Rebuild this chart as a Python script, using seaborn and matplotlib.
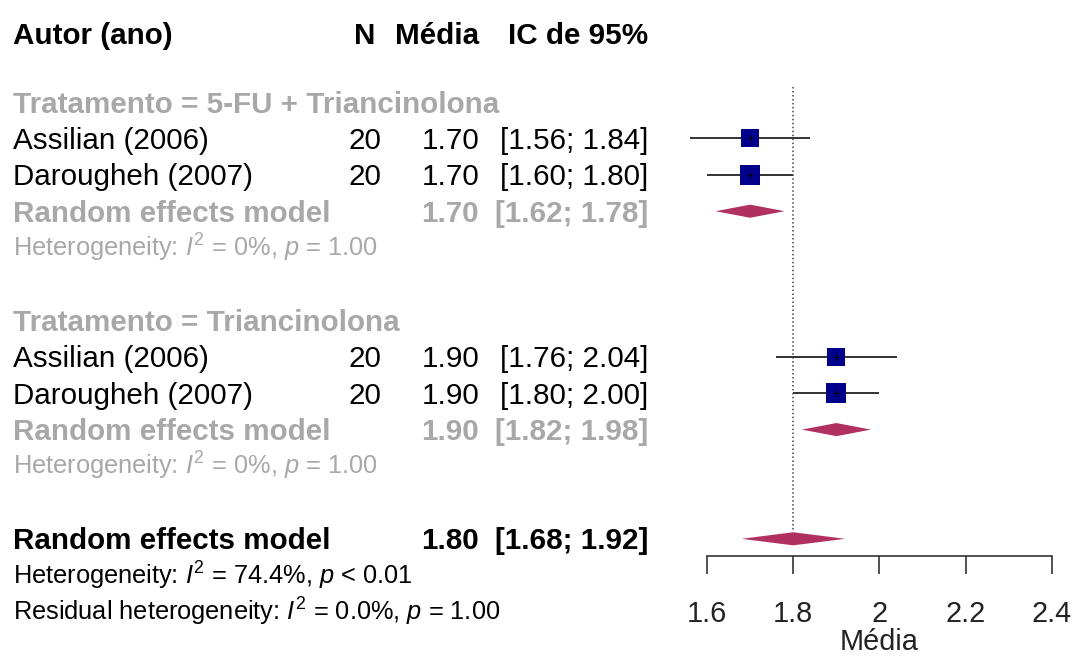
import numpy as np
import pandas as pd
import seaborn as sns
import matplotlib
matplotlib.use("Agg")
import matplotlib.pyplot as plt
from matplotlib.transforms import blended_transform_factory

# ---- data -------------------------------------------------------------
group_labels = ["Tratamento = 5-FU + Triancinolona", "Tratamento = Triancinolona"]

study_names = ["Assilian (2006)", "Darougheh (2007)",
               "Assilian (2006)", "Darougheh (2007)"]
study_group = [0, 0, 1, 1]
study_n = [20, 20, 20, 20]
study_mean = [1.70, 1.70, 1.90, 1.90]
study_lower = [1.56, 1.60, 1.76, 1.80]
study_upper = [1.84, 1.80, 2.04, 2.00]
study_weight = [45.0, 55.0, 45.0, 55.0]

sub_mean = [1.70, 1.90]
sub_lower = [1.62, 1.82]
sub_upper = [1.78, 1.98]
sub_i2 = ["0%", "0%"]
sub_p = ["= 1.00", "= 1.00"]

overall_mean = 1.80
overall_lower = 1.68
overall_upper = 1.92
overall_i2 = "74.4%"
overall_p = "< 0.01"
resid_i2 = "0.0%"
resid_p = "= 1.00"

ref_value = 1.8
x_ticks = [1.6, 1.8, 2.0, 2.2, 2.4]
x_tick_labels = ["1.6", "1.8", "2", "2.2", "2.4"]
x_label = "Média"
col_headers = ["Autor (ano)", "N", "Média", "IC de 95%"]

# ---- style --------------------------------------------------------------
sns.set_theme(style="white")
plt.rcParams["font.family"] = ["Liberation Sans", "DejaVu Sans"]
plt.rcParams["mathtext.fontset"] = "custom"
plt.rcParams["mathtext.rm"] = "Liberation Sans"
plt.rcParams["mathtext.it"] = "Liberation Sans:italic"
plt.rcParams["mathtext.bf"] = "Liberation Sans:bold"

W, H, DPI = 1074, 659, 100
GRAY = "#A8A8A8"
SQUARE = "#00008B"
DIAMOND = "#B03060"
FS = 21.3        # main text size (pt)
FS_HET = 18.3    # heterogeneity lines
FS_AXIS = 20.8   # axis tick labels / title

ROW0_PX = 102.0  # first row centre (px)
ROW_PX = 36.4    # row spacing (px)

fig = plt.figure(figsize=(W / DPI, H / DPI), dpi=DPI)

# forest panel: x in data units, y in row units, full figure height
x_lo, x_hi = 1.55, 2.45
px_per_unit = 431.25
left_px = 707 + (x_lo - 1.6) * px_per_unit
width_px = (x_hi - x_lo) * px_per_unit
ax = fig.add_axes([left_px / W, 0, width_px / W, 1])
ax.set_xlim(x_lo, x_hi)
ax.set_ylim((H - ROW0_PX) / ROW_PX, -ROW0_PX / ROW_PX)
ax.set_facecolor("none")

trans = blended_transform_factory(fig.transFigure, ax.transData)


def put(xpx, row, s, size=FS, bold=False, color="black", ha="left"):
    cap = 0.716 * size / 72 * DPI / 2.0 / ROW_PX
    ax.text(xpx / W, row + cap, s, transform=trans, fontsize=size,
            fontweight="bold" if bold else "normal", color=color,
            ha=ha, va="baseline")


X_LABEL, X_N, X_MEAN, X_CI = 13, 365, 479, 648

# header
hdr_row = -1.88
put(X_LABEL, hdr_row, col_headers[0], bold=True)
put(X_N, hdr_row, col_headers[1], bold=True, ha="center")
put(X_MEAN, hdr_row, col_headers[2], bold=True, ha="right")
put(X_CI, hdr_row, col_headers[3], bold=True, ha="right")

# row layout
r = 0
study_rows = []
sub_rows = []
for g, glabel in enumerate(group_labels):
    put(X_LABEL, r, glabel, bold=True, color=GRAY)
    r += 1
    for i, grp in enumerate(study_group):
        if grp != g:
            continue
        put(X_LABEL, r, study_names[i])
        put(X_N, r, f"{study_n[i]}", ha="center")
        put(X_MEAN, r, f"{study_mean[i]:.2f}", ha="right")
        put(X_CI, r, f"[{study_lower[i]:.2f}; {study_upper[i]:.2f}]", ha="right")
        study_rows.append(r)
        r += 1
    put(X_LABEL, r, "Random effects model", bold=True, color=GRAY)
    put(X_MEAN, r, f"{sub_mean[g]:.2f}", bold=True, color=GRAY, ha="right")
    put(X_CI, r, f"[{sub_lower[g]:.2f}; {sub_upper[g]:.2f}]", bold=True,
        color=GRAY, ha="right")
    sub_rows.append(r)
    r += 1
    put(X_LABEL, r, rf"Heterogeneity: $I^2$ = {sub_i2[g]}, $p$ {sub_p[g]}",
        size=FS_HET, color=GRAY)
    r += 2

overall_row = r
put(X_LABEL, r, "Random effects model", bold=True)
put(X_MEAN, r, f"{overall_mean:.2f}", bold=True, ha="right")
put(X_CI, r, f"[{overall_lower:.2f}; {overall_upper:.2f}]", bold=True, ha="right")
put(X_LABEL, r + 1, rf"Heterogeneity: $I^2$ = {overall_i2}, $p$ {overall_p}",
    size=FS_HET)
put(X_LABEL, r + 2,
    rf"Residual heterogeneity: $I^2$ = {resid_i2}, $p$ {resid_p}", size=FS_HET)

# reference line
ax.vlines(ref_value, -0.42, overall_row - 0.2, colors="#444444",
          linestyles=(0, (1, 1.6)), linewidth=1.1, zorder=1)

# confidence intervals and study squares
ax.hlines(study_rows, study_lower, study_upper, colors="#333333",
          linewidth=1.4, zorder=2)
w = np.array(study_weight)
side_pt = 20 * np.sqrt(w / w.max()) * 72 / DPI
df = pd.DataFrame({"mean": study_mean, "row": study_rows})
sns.scatterplot(data=df, x="mean", y="row", ax=ax, marker="s",
                s=side_pt ** 2, color=SQUARE, edgecolor="none",
                linewidth=0, zorder=3, legend=False)
ax.scatter(study_mean, study_rows, marker="+", s=14, color="black",
           linewidths=0.7, zorder=4)

# pooled diamonds
half_h = 0.18
for m, lo, hi, rr in zip(sub_mean + [overall_mean],
                         sub_lower + [overall_lower],
                         sub_upper + [overall_upper],
                         sub_rows + [overall_row]):
    ax.fill([lo, m, hi, m], [rr, rr - half_h, rr, rr + half_h],
            color=DIAMOND, linewidth=0, zorder=3)

# x axis
axis_row = (556 - ROW0_PX) / ROW_PX
for s in ["left", "right", "top"]:
    ax.spines[s].set_visible(False)
ax.spines["bottom"].set_position(("data", axis_row))
ax.spines["bottom"].set_bounds(x_ticks[0], x_ticks[-1])
ax.spines["bottom"].set_color("#333333")
ax.spines["bottom"].set_linewidth(1.2)
ax.set_yticks([])
ax.set_xticks(x_ticks)
ax.set_xticklabels(x_tick_labels)
ax.tick_params(axis="x", direction="out", length=13, width=1.2,
               color="#333333", labelsize=FS_AXIS, labelcolor="#222222",
               pad=18.5, bottom=True)
ax.set_xlabel(x_label, fontsize=FS_AXIS, color="#222222", labelpad=0.5)
ax.set_ylabel("")

fig.savefig("out.png", dpi=DPI)
